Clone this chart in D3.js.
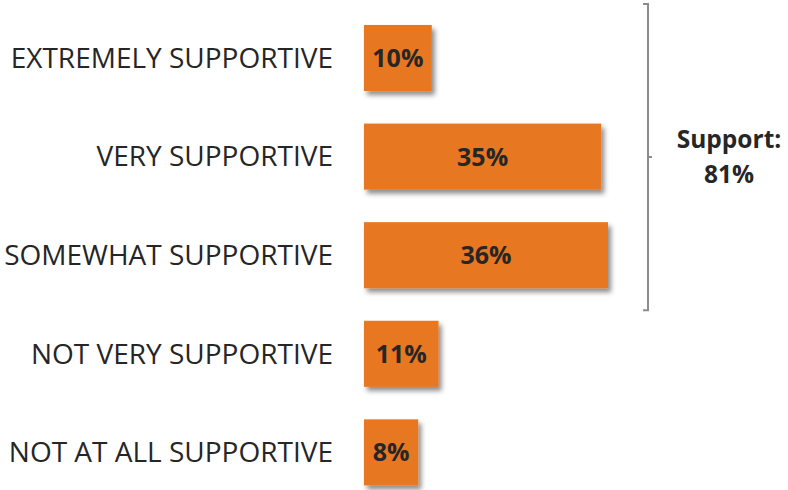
<!DOCTYPE html>
<html>
<head>
<meta charset="utf-8">
<script src="https://cdn.jsdelivr.net/npm/d3@7"></script>
<style>
  body { margin: 0; background: #fff; }
  text { font-family: "Open Sans", sans-serif; fill: #262626; }
</style>
</head>
<body>
<script>
// Data
const categories = [
  'EXTREMELY SUPPORTIVE',
  'VERY SUPPORTIVE',
  'SOMEWHAT SUPPORTIVE',
  'NOT VERY SUPPORTIVE',
  'NOT AT ALL SUPPORTIVE'
];
const values = [10, 35, 36, 11, 8];
const supportGroup = categories.slice(0, 3);
const supportLabel = 'Support:';

const width = 788;
const height = 490;
const barColor = '#E87722';

const svg = d3.select('body')
  .append('svg')
  .attr('width', width)
  .attr('height', height);

// Shadow under bars
const defs = svg.append('defs');
defs.append('filter')
  .attr('id', 'shadow')
  .attr('x', '-20%')
  .attr('y', '-20%')
  .attr('width', '150%')
  .attr('height', '150%')
  .append('feDropShadow')
  .attr('dx', 3)
  .attr('dy', 4)
  .attr('stdDeviation', 2.5)
  .attr('flood-color', '#000')
  .attr('flood-opacity', 0.45);

// Scales
const xScale = d3.scaleLinear()
  .domain([0, 36])
  .range([364, 608]);

const yScale = d3.scaleBand()
  .domain(categories)
  .range([8.7, 501.7])
  .paddingInner(0.33)
  .paddingOuter(0.165);

const data = categories.map((c, i) => ({ cat: c, value: values[i] }));

// Bars
svg.append('g')
  .selectAll('rect')
  .data(data)
  .join('rect')
  .attr('x', xScale(0))
  .attr('y', (d) => yScale(d.cat))
  .attr('width', (d) => xScale(d.value) - xScale(0))
  .attr('height', yScale.bandwidth())
  .attr('fill', barColor)
  .attr('filter', 'url(#shadow)');

// Value labels
svg.append('g')
  .selectAll('text')
  .data(data)
  .join('text')
  .attr('x', (d) => (xScale(0) + xScale(d.value)) / 2)
  .attr('y', (d) => yScale(d.cat) + yScale.bandwidth() / 2)
  .attr('dy', '0.36em')
  .attr('text-anchor', 'middle')
  .attr('font-size', '25px')
  .attr('font-weight', 'bold')
  .text((d) => `${d.value}%`);

// Category labels
svg.append('g')
  .selectAll('text')
  .data(data)
  .join('text')
  .attr('x', 333)
  .attr('y', (d) => yScale(d.cat) + yScale.bandwidth() / 2)
  .attr('dy', '0.35em')
  .attr('text-anchor', 'end')
  .attr('font-size', '28px')
  .text((d) => d.cat);

// Bracket for support total
const bTop = yScale(supportGroup[0]) - 21;
const bBottom = yScale(supportGroup[supportGroup.length - 1]) + yScale.bandwidth() + 22;
const bMid = (bTop + bBottom) / 2;
const bx = 648;

svg.append('path')
  .attr('d', `M${bx - 5},${bTop}H${bx}V${bBottom}H${bx - 5}M${bx},${bMid}H${bx + 4}`)
  .attr('fill', 'none')
  .attr('stroke', '#8c8c8c')
  .attr('stroke-width', 2);

const supportTotal = d3.sum(data.filter((d) => supportGroup.includes(d.cat)), (d) => d.value);

const supportText = svg.append('text')
  .attr('x', 729)
  .attr('y', 148)
  .attr('text-anchor', 'middle')
  .attr('font-size', '24.5px')
  .attr('font-weight', 'bold');

supportText.append('tspan')
  .attr('x', 729)
  .text(supportLabel);

supportText.append('tspan')
  .attr('x', 729)
  .attr('y', 183)
  .text(`${supportTotal}%`);
</script>
</body>
</html>
